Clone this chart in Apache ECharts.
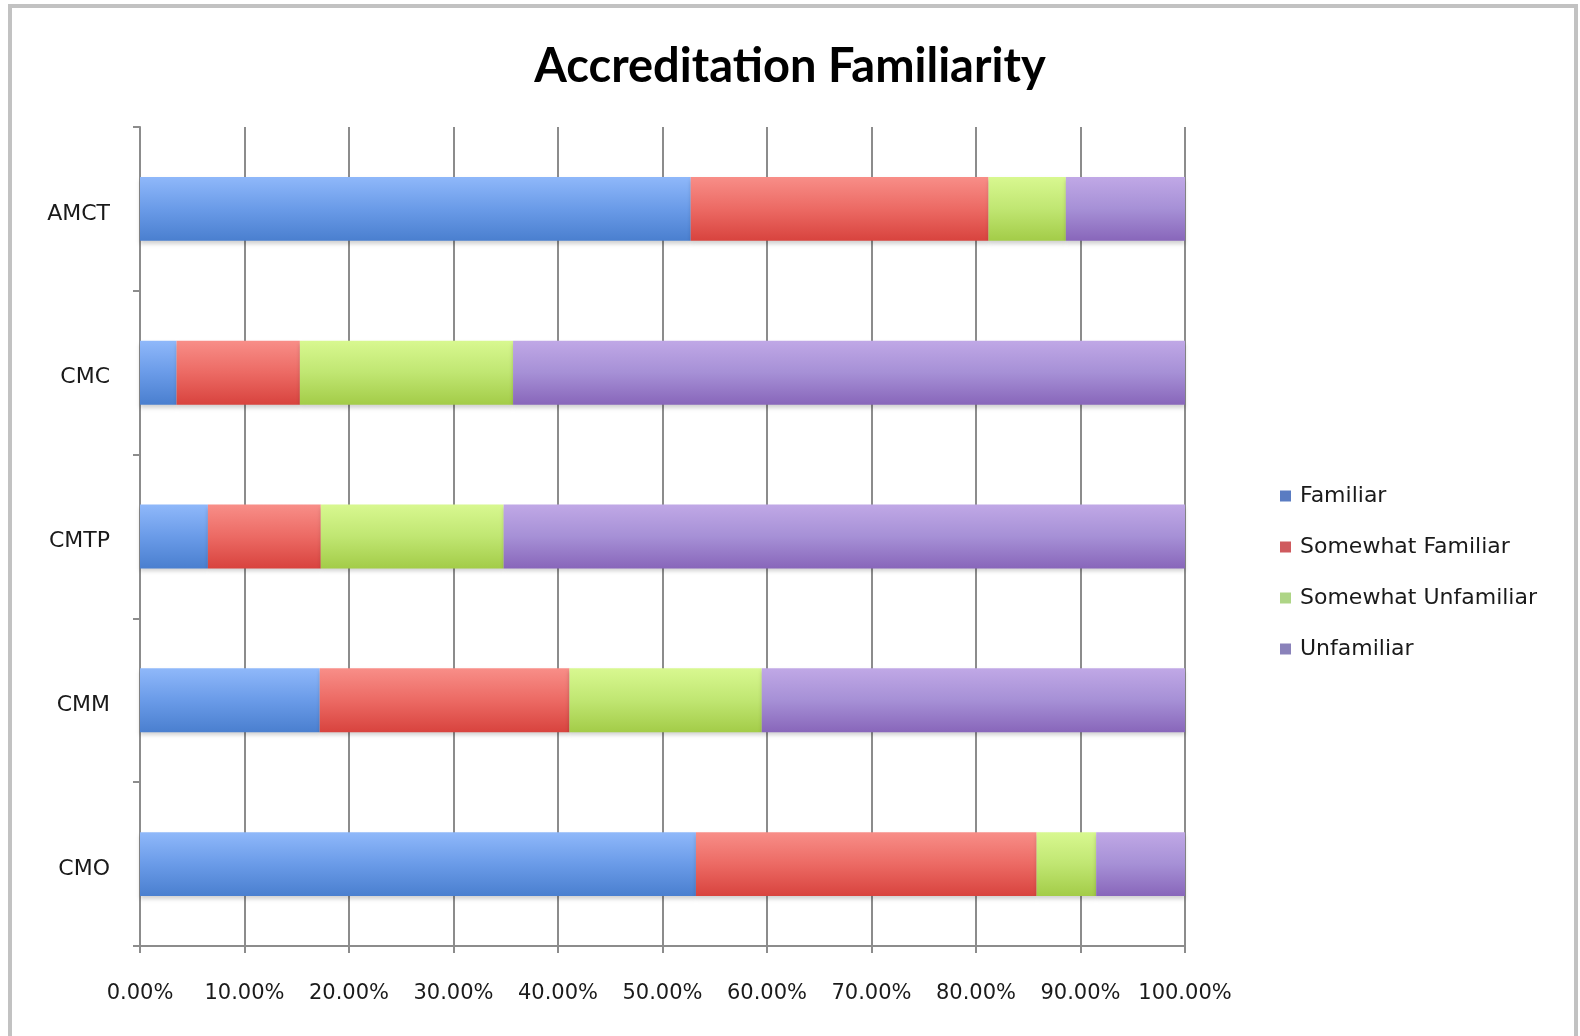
<!DOCTYPE html>
<html>
<head>
<meta charset="utf-8">
<script src="https://cdn.jsdelivr.net/npm/echarts@6/dist/echarts.min.js"></script>
<style>
html,body{margin:0;padding:0;background:#fff;}
#chart{width:1580px;height:1036px;}
</style>
</head>
<body>
<div id="chart"></div>
<script>
var categories = ['AMCT', 'CMC', 'CMTP', 'CMM', 'CMO'];
var seriesNames = ['Familiar', 'Somewhat Familiar', 'Somewhat Unfamiliar', 'Unfamiliar'];
var familiar = [52.7, 3.5, 6.5, 17.2, 53.2];
var somewhatFamiliar = [28.5, 11.8, 10.8, 23.9, 32.6];
var somewhatUnfamiliar = [7.4, 20.4, 17.5, 18.4, 5.7];
var unfamiliar = [11.4, 64.3, 65.2, 40.5, 8.5];
var xTicks = [0, 10, 20, 30, 40, 50, 60, 70, 80, 90, 100];

var values = [familiar, somewhatFamiliar, somewhatUnfamiliar, unfamiliar];
var gradients = [
  ['#8fb8fa', '#6a9be8', '#4a7fcf'],
  ['#f88e88', '#ec6a64', '#d8433e'],
  ['#d8f890', '#c0e672', '#a3cc48'],
  ['#c0a8e6', '#a690d6', '#8866ba']
];
var legendColors = ['#5a7cc2', '#cf5a5e', '#aed586', '#8a82ba'];

var chart = echarts.init(document.getElementById('chart'), null, {renderer: 'canvas'});
var labelFont = '"DejaVu Sans", sans-serif';

var series = seriesNames.map(function (name, i) {
  return {
    name: name,
    type: 'bar',
    stack: 'total',
    barWidth: '39%',
    data: values[i],
    itemStyle: {
      color: new echarts.graphic.LinearGradient(0, 0, 0, 1, [
        {offset: 0, color: gradients[i][0]},
        {offset: 0.5, color: gradients[i][1]},
        {offset: 1, color: gradients[i][2]}
      ]),
      shadowColor: 'rgba(0,0,0,0.18)',
      shadowBlur: 4,
      shadowOffsetY: 3
    },
    emphasis: {disabled: true}
  };
});

chart.setOption({
  animation: false,
  backgroundColor: '#ffffff',
  graphic: [{
    type: 'rect',
    shape: {x: 10, y: 6, width: 1566, height: 1032},
    style: {fill: 'none', stroke: '#c2c2c2', lineWidth: 4},
    z: 100
  }],
  title: {
    text: 'Accreditation Familiarity',
    left: 'center',
    top: 38,
    textStyle: {fontFamily: 'Lato, sans-serif', fontWeight: 'bold', fontSize: 47, color: '#000'}
  },
  legend: {
    orient: 'vertical',
    left: 1275,
    top: 480,
    itemWidth: 11,
    itemHeight: 11,
    itemGap: 29,
    icon: 'rect',
    textStyle: {fontFamily: labelFont, fontSize: 22, color: '#1a1a1a', padding: [0, 0, 0, 4]},
    data: seriesNames.map(function (n, i) {
      return {name: n, itemStyle: {color: legendColors[i]}};
    })
  },
  grid: {left: 140, right: 395, top: 127, bottom: 90, containLabel: false},
  xAxis: {
    type: 'value',
    min: xTicks[0],
    max: xTicks[xTicks.length - 1],
    interval: 10,
    axisLine: {show: true, lineStyle: {color: '#8c8c8c', width: 2}},
    axisTick: {show: true, length: 7, lineStyle: {color: '#8c8c8c', width: 2}},
    splitLine: {show: true, lineStyle: {color: '#8c8c8c', width: 2}},
    axisLabel: {
      fontFamily: labelFont, fontSize: 21, color: '#1a1a1a', margin: 37,
      formatter: function (v) { return v.toFixed(2) + '%'; }
    }
  },
  yAxis: {
    type: 'category',
    inverse: true,
    data: categories,
    axisLine: {show: true, lineStyle: {color: '#8c8c8c', width: 2}},
    axisTick: {show: true, length: 7, lineStyle: {color: '#8c8c8c', width: 2}},
    axisLabel: {fontFamily: labelFont, fontSize: 22, color: '#1a1a1a', margin: 30, verticalAlign: 'top', lineHeight: 10}
  },
  series: series
});
</script>
</body>
</html>
